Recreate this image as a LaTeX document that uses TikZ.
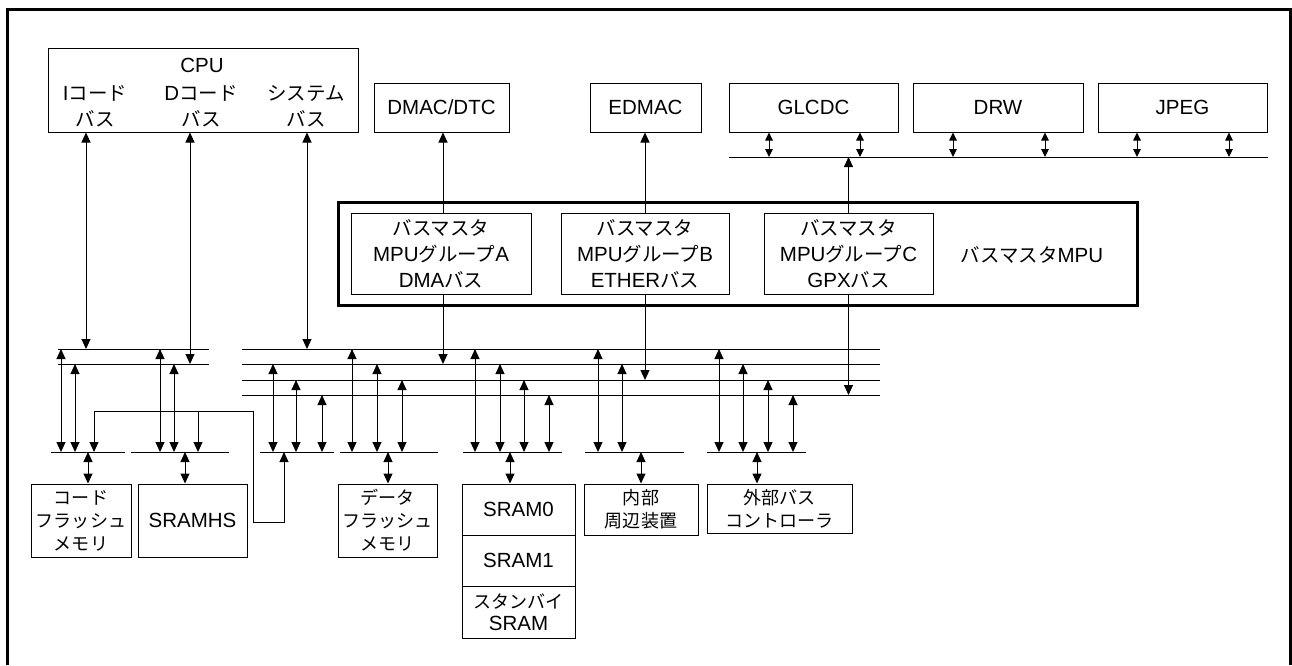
\documentclass[tikz,border=0pt]{standalone}
\usepackage{fontspec}
\setmainfont{Liberation Sans}
\newfontfamily\jfont[Scale=0.95]{Noto Sans CJK JP}
\newfontfamily\jsfont[Scale=0.88]{Noto Sans CJK JP}
\newcommand\J[1]{{\jfont #1}}
\newcommand\Js[1]{{\jsfont #1}}
\usetikzlibrary{arrows.meta}
\tikzset{
  box/.style={draw, line width=1pt, inner sep=0pt, align=center, font=\fontsize{20.5}{26}\selectfont},
  sbox/.style={box, font=\fontsize{20.5}{23}\selectfont},
  txt/.style={inner sep=0pt, align=center, font=\fontsize{20.5}{26}\selectfont},
  ln/.style={line width=1pt},
  arr/.style={ln, -{Triangle[length=10pt,width=9pt]}},
  dbl/.style={ln, {Triangle[length=10pt,width=9pt]}-{Triangle[length=10pt,width=9pt]}},
  sdbl/.style={ln, {Triangle[length=8pt,width=7.5pt]}-{Triangle[length=8pt,width=7.5pt]}},
  frame/.style={line width=3pt},
}
\begin{document}
\begin{tikzpicture}[x=1pt,y=-1pt]
\useasboundingbox (0,0) rectangle (1292,665);
% outer frame (bottom edge outside the picture)
\draw[frame] (7.5,665) -- (7.5,9.5) -- (1290.5,9.5) -- (1290.5,665);

% ---------- top row ----------
\node[box, minimum width=310pt, minimum height=84pt] (cpu) at (203,90) {};
\node[txt] (cputitle) at (202,65) {CPU};
\node[txt] (icode) at (95,106) {I\J{コード}\\\J{バス}};
\node[txt] (dcode) at (201,106) {D\J{コード}\\\J{バス}};
\node[txt] (sysb) at (306,106) {\J{システム}\\\J{バス}};

\node[box, minimum width=135pt, minimum height=49pt] (dmac) at (441.5,107.5) {DMAC/DTC};
\node[box, minimum width=111pt, minimum height=49pt] (edmac) at (645.5,107.5) {EDMAC};
\node[box, minimum width=169pt, minimum height=49pt] (glcdc) at (813.5,107.5) {GLCDC};
\node[box, minimum width=170pt, minimum height=49pt] (drw) at (998,107.5) {DRW};
\node[box, minimum width=169pt, minimum height=49pt] (jpeg) at (1182.5,107.5) {JPEG};

% GPX bus
\coordinate (gpxL) at (729,157);
\coordinate (gpxR) at (1268,157);
\draw[ln] (gpxL) -- (gpxR);
\foreach \x/\n in {769/glcdc,860/glcdc,953/drw,1045/drw,1137/jpeg,1229/jpeg}
  \draw[sdbl] (\n.south -| \x,0) -- (\x,157);

% ---------- bus master MPU ----------
\node[draw, line width=3pt, minimum width=799pt, minimum height=103pt, inner sep=0pt] (mpu) at (737.5,253.5) {};
\node[box, minimum width=180pt, minimum height=81pt] (mA) at (441,253.5)
  {\J{バスマスタ}\\MPU\J{グループ}A\\DMA\J{バス}};
\node[box, minimum width=168pt, minimum height=81pt] (mB) at (645,253.5)
  {\J{バスマスタ}\\MPU\J{グループ}B\\ETHER\J{バス}};
\node[box, minimum width=169pt, minimum height=81pt] (mC) at (848.5,253.5)
  {\J{バスマスタ}\\MPU\J{グループ}C\\GPX\J{バス}};
\node[txt] (mpulabel) at (1032,255) {\J{バスマスタ}MPU};

% ---------- main buses ----------
\foreach \y in {349,364} \draw[ln] (58,\y) -- (209,\y);
\foreach \y in {349,364,380,395} \draw[ln] (242,\y) -- (880,\y);

% CPU connections
\draw[dbl] (cpu.south -| 86,0) -- (86,349);
\draw[dbl] (cpu.south -| 190,0) -- (190,364);
\draw[dbl] (cpu.south -| 307,0) -- (307,349);
% bus master connections
\draw[arr] (mA.north -| 443,0) -- (dmac.south -| 443,0);
\draw[arr] (mA.south -| 443,0) -- (443,364);
\draw[arr] (mB.north) -- (edmac.south -| mB.north);
\draw[arr] (mB.south) -- (645,380);
\draw[arr] (mC.north) -- (mC.north |- gpxL);
\draw[arr] (mC.south) -- (848.5,395);

% ---------- slave buses ----------
\foreach \a/\b in {51/125,131/229,260/334,340/438,463/562,585/684,707/806}
  \draw[ln] (\a,452) -- (\b,452);

% vertical bus connections
\foreach \x/\y in {61/349,75/364, 160/349,174/364, 273/364,296/380,322/395,
  352/349,377/364,402/380, 475/349,500/364,524/380,549/395,
  598/349,622/364, 719/349,743/364,768/380,793/395}
  \draw[dbl] (\x,\y) -- (\x,452);

% loop connection
\draw[dbl] (94,452) -- (94,411) -- (253,411) -- (253,522) -- (284,522) -- (284,452);
\draw[arr] (198,411) -- (198,452);

% ---------- slaves ----------
\node[sbox, minimum width=100pt, minimum height=73pt] (cflash) at (81,520.5)
  {\Js{コード}\\\Js{フラッシュ}\\\Js{メモリ}};
\node[sbox, minimum width=109pt, minimum height=73pt] (sramhs) at (192.5,520.5) {SRAMHS};
\node[sbox, minimum width=99pt, minimum height=73pt] (dflash) at (387.5,520.5)
  {\Js{データ}\\\Js{フラッシュ}\\\Js{メモリ}};
\node[sbox, minimum width=113pt, minimum height=51pt] (sram0) at (518.5,509.5) {SRAM0};
\node[sbox, minimum width=113pt, minimum height=51pt] (sram1) at (518.5,560.5) {SRAM1};
\node[sbox, font=\fontsize{20.5}{22}\selectfont, minimum width=113pt, minimum height=52pt] (stby) at (518.5,612) {\Js{スタンバイ}\\SRAM};
\node[sbox, minimum width=114pt, minimum height=51pt] (naibu) at (641,509.5)
  {\Js{内部}\\\Js{周辺装置}};
\node[sbox, minimum width=145pt, minimum height=49pt] (gaibu) at (779.5,508.5)
  {\Js{外部バス}\\\Js{コントローラ}};

\draw[dbl] (88,452) -- (cflash.north -| 88,0);
\draw[dbl] (185,452) -- (sramhs.north -| 185,0);
\draw[dbl] (388,452) -- (dflash.north -| 388,0);
\draw[dbl] (510,452) -- (sram0.north -| 510,0);
\draw[dbl] (641,452) -- (naibu.north -| 641,0);
\draw[dbl] (757,452) -- (gaibu.north -| 757,0);
\end{tikzpicture}
\end{document}
